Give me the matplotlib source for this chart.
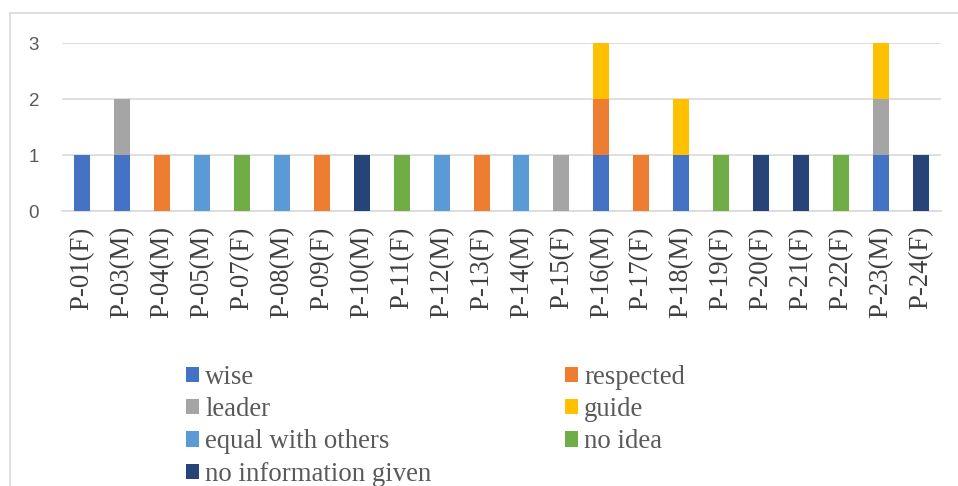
import matplotlib
matplotlib.use("Agg")
import matplotlib.pyplot as plt
from matplotlib.patches import Rectangle
import numpy as np

participants = ["P-01(F)", "P-03(M)", "P-04(M)", "P-05(M)", "P-07(F)", "P-08(M)",
                "P-09(F)", "P-10(M)", "P-11(F)", "P-12(M)", "P-13(F)", "P-14(M)",
                "P-15(F)", "P-16(M)", "P-17(F)", "P-18(M)", "P-19(F)", "P-20(F)",
                "P-21(F)", "P-22(F)", "P-23(M)", "P-24(F)"]

wise        = [1, 1, 0, 0, 0, 0, 0, 0, 0, 0, 0, 0, 0, 1, 0, 1, 0, 0, 0, 0, 1, 0]
respected   = [0, 0, 1, 0, 0, 0, 1, 0, 0, 0, 1, 0, 0, 1, 1, 0, 0, 0, 0, 0, 0, 0]
leader      = [0, 1, 0, 0, 0, 0, 0, 0, 0, 0, 0, 0, 1, 0, 0, 0, 0, 0, 0, 0, 1, 0]
guide       = [0, 0, 0, 0, 0, 0, 0, 0, 0, 0, 0, 0, 0, 1, 0, 1, 0, 0, 0, 0, 1, 0]
equal       = [0, 0, 0, 1, 0, 1, 0, 0, 0, 1, 0, 1, 0, 0, 0, 0, 0, 0, 0, 0, 0, 0]
no_idea     = [0, 0, 0, 0, 1, 0, 0, 0, 1, 0, 0, 0, 0, 0, 0, 0, 1, 0, 0, 1, 0, 0]
no_info     = [0, 0, 0, 0, 0, 0, 0, 1, 0, 0, 0, 0, 0, 0, 0, 0, 0, 1, 1, 0, 0, 1]

series_names = ["wise", "respected", "leader", "guide", "equal with others",
                "no idea", "no information given"]
series_values = [wise, respected, leader, guide, equal, no_idea, no_info]
colors = ["#4472C4", "#ED7D31", "#A5A5A5", "#FFC000", "#5B9BD5", "#70AD47", "#264478"]

W, H = 958, 486
fig = plt.figure(figsize=(W / 100, H / 100), dpi=100)

# outer chart border
fig.patches.append(Rectangle((10 / W, -0.1), 1.2, 1 - 13 / H + 0.1,
                             transform=fig.transFigure, fill=False,
                             edgecolor="#D9D9D9", linewidth=1.2))

ax = fig.add_axes([62 / W, 1 - 211 / H, (941 - 62) / W, (211 - 43) / H])
x = np.arange(len(participants))
bottom = np.zeros(len(participants))
handles = []
for name, vals, c in zip(series_names, series_values, colors):
    v = np.array(vals, dtype=float)
    b = ax.bar(x, v, 0.4, bottom=bottom, color=c, label=name, zorder=3)
    handles.append(b)
    bottom += v

ax.set_xlim(-0.5, len(participants) - 0.5)
ax.set_ylim(0, 3)
ax.set_yticks([0, 1, 2, 3])
ax.yaxis.grid(True, color="#D9D9D9", linewidth=1.2, zorder=0)
ax.set_axisbelow(True)
for s in ["left", "right", "top"]:
    ax.spines[s].set_visible(False)
ax.spines["bottom"].set_color("#D9D9D9")
ax.spines["bottom"].set_linewidth(1.2)
ax.tick_params(axis="both", length=0)
ax.tick_params(axis="y", pad=16.5, labelsize=13.5, labelcolor="#595959")
ax.tick_params(axis="x", pad=11)
for lbl in ax.get_yticklabels():
    lbl.set_fontfamily("Liberation Sans")
ax.set_xticks(x)
ax.set_xticklabels(participants, rotation=90, fontsize=19.3,
                   fontfamily="Liberation Serif", color="#404040")

# legend laid out row by row (two columns)
order = [0, 2, 4, 6, 1, 3, 5]
leg = fig.legend(handles=[handles[i] for i in order],
                 labels=[series_names[i] for i in order], ncol=2,
                 loc="upper left", bbox_to_anchor=(186 / W, 1 - 365 / H),
                 frameon=False, prop={"family": "Liberation Serif", "size": 19.3},
                 handlelength=0.49, handleheight=0.49, handletextpad=0.22,
                 columnspacing=5.0, labelspacing=0.27, borderaxespad=0,
                 borderpad=0)
for t in leg.get_texts():
    t.set_color("#595959")

fig.savefig("out.png", dpi=100)
